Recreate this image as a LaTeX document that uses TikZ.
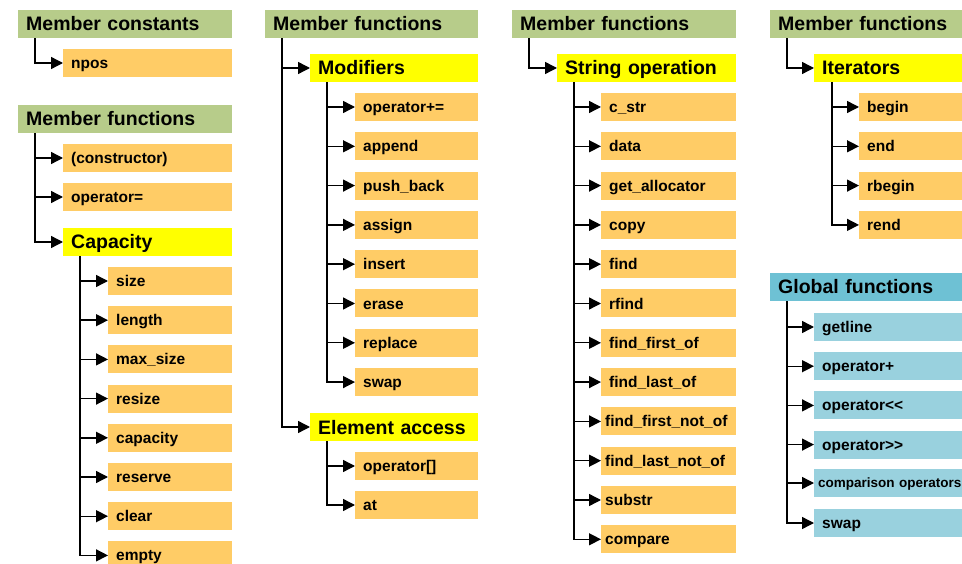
\documentclass[tikz,border=0pt]{standalone}
\usepackage{fontspec}
\setmainfont{Liberation Sans}
\usetikzlibrary{arrows.meta}
\definecolor{hdgreen}{HTML}{B7CC8A}
\definecolor{itemorange}{HTML}{FFCC66}
\definecolor{grpyellow}{HTML}{FFFF00}
\definecolor{hdblue}{HTML}{6EC1D4}
\definecolor{itemblue}{HTML}{99D1DE}
\tikzset{
  box/.style={anchor=west, minimum height=28pt, inner xsep=8pt, inner ysep=0pt,
    align=left, text depth=0pt},
  head/.style={box, fill=hdgreen, font=\fontsize{19.5pt}{22pt}\selectfont\bfseries, text height=14pt},
  ghead/.style={head, fill=hdblue},
  group/.style={head, fill=grpyellow},
  item/.style={box, fill=itemorange, font=\fontsize{15.5pt}{18pt}\selectfont\bfseries, text height=11.1pt},
  gitem/.style={item, fill=itemblue},
  tight/.style={inner xsep=4pt},
  link/.style={line width=1.4pt, draw=black, -{Triangle[length=12pt 0, width=12pt 0]}},
}
\begin{document}
\begin{tikzpicture}[x=1pt,y=-1pt]
\useasboundingbox (0,0) rectangle (962,564);
\fill[white] (0,0) rectangle (962,564);
\clip (0,0) rectangle (962,564);

% ---- column 1: member constants, constructors, capacity
\node[head, text width=198pt] (mc) at (18,24) {Member constants};
\node[item, text width=153pt] (npos) at (63,63) {npos};
\node[head, text width=198pt] (mf1) at (18,119) {Member functions};
\node[item, text width=153pt] (ctor) at (63,158) {(constructor)};
\node[item, text width=153pt] (opeq) at (63,197) {operator=};
\node[group, text width=153pt] (cap) at (63,242) {Capacity};
\foreach \n/\t [count=\i from 0] in {size/size, length/length, maxsize/max\_size,
    resize/resize, capacity/capacity, reserve/reserve, clear/clear, empty/empty}
  \node[item, text width=108pt] (\n) at (108,{281+39.2*\i}) {\t};

\draw[link] ([xshift=17pt]mc.south west) |- (npos.west);
\foreach \c in {ctor,opeq,cap}
  \draw[link] ([xshift=17pt]mf1.south west) |- (\c.west);
\foreach \c in {size,length,maxsize,resize,capacity,reserve,clear,empty}
  \draw[link] ([xshift=17pt]cap.south west) |- (\c.west);

% ---- column 2: modifiers and element access
\node[head, text width=197pt] (mf2) at (265,24) {Member functions};
\node[group, text width=152pt] (mod) at (310,68) {Modifiers};
\foreach \n/\t [count=\i from 0] in {opplus/operator+=, append/append, pushback/push\_back,
    assign/assign, insert/insert, erase/erase, replace/replace, swapm/swap}
  \node[item, text width=107pt] (\n) at (355,{107+39.3*\i}) {\t};
\node[group, text width=152pt] (elem) at (310,427) {Element access};
\node[item, text width=107pt] (opidx) at (355,466) {operator[]};
\node[item, text width=107pt] (at) at (355,505) {at};

\foreach \c in {mod,elem}
  \draw[link] ([xshift=17pt]mf2.south west) |- (\c.west);
\foreach \c in {opplus,append,pushback,assign,insert,erase,replace,swapm}
  \draw[link] ([xshift=17pt]mod.south west) |- (\c.west);
\foreach \c in {opidx,at}
  \draw[link] ([xshift=17pt]elem.south west) |- (\c.west);

% ---- column 3: string operations
\node[head, text width=208pt] (mf3) at (512,24) {Member functions};
\node[group, text width=163pt] (strop) at (557,68) {String operation};
\foreach \n/\t [count=\i from 0] in {cstr/c\_str, data/data, getalloc/get\_allocator,
    copy/copy, find/find, rfind/rfind, ffo/find\_first\_of, flo/find\_last\_of}
  \node[item, text width=119pt] (\n) at (601,{107+39.3*\i}) {\t};
\foreach \n/\t [count=\i from 8] in {ffno/find\_first\_not\_of, flno/find\_last\_not\_of,
    substr/substr, compare/compare}
  \node[item, tight, text width=127pt] (\n) at (601,{107+39.3*\i}) {\t};

\draw[link] ([xshift=17pt]mf3.south west) |- (strop.west);
\foreach \c in {cstr,data,getalloc,copy,find,rfind,ffo,flo,ffno,flno,substr,compare}
  \draw[link] ([xshift=17pt]strop.south west) |- (\c.west);

% ---- column 4: iterators and global functions
\node[head, text width=184pt] (mf4) at (770,24) {Member functions};
\node[group, text width=144pt] (iter) at (814,68) {Iterators};
\foreach \n/\t [count=\i from 0] in {begin/begin, end/end, rbegin/rbegin, rend/rend}
  \node[item, text width=104pt] (\n) at (859,{107+39.3*\i}) {\t};
\node[ghead, text width=184pt] (gf) at (770,287) {Global functions};
\foreach \n/\t [count=\i from 0] in {getline/getline, opadd/operator+,
    opout/operator<{}<, opin/operator>{}>}
  \node[gitem, text width=144pt] (\n) at (814,{327+39.2*\i}) {\t};
\node[gitem, tight, text width=152pt, font=\fontsize{13.5pt}{16pt}\selectfont\bfseries,
  text height=9.7pt] (cmp) at (814,483) {comparison operators};
\node[gitem, text width=144pt] (gswap) at (814,523) {swap};

\draw[link] ([xshift=17pt]mf4.south west) |- (iter.west);
\foreach \c in {begin,end,rbegin,rend}
  \draw[link] ([xshift=18pt]iter.south west) |- (\c.west);
\foreach \c in {getline,opadd,opout,opin,cmp,gswap}
  \draw[link] ([xshift=17pt]gf.south west) |- (\c.west);
\end{tikzpicture}
\end{document}
